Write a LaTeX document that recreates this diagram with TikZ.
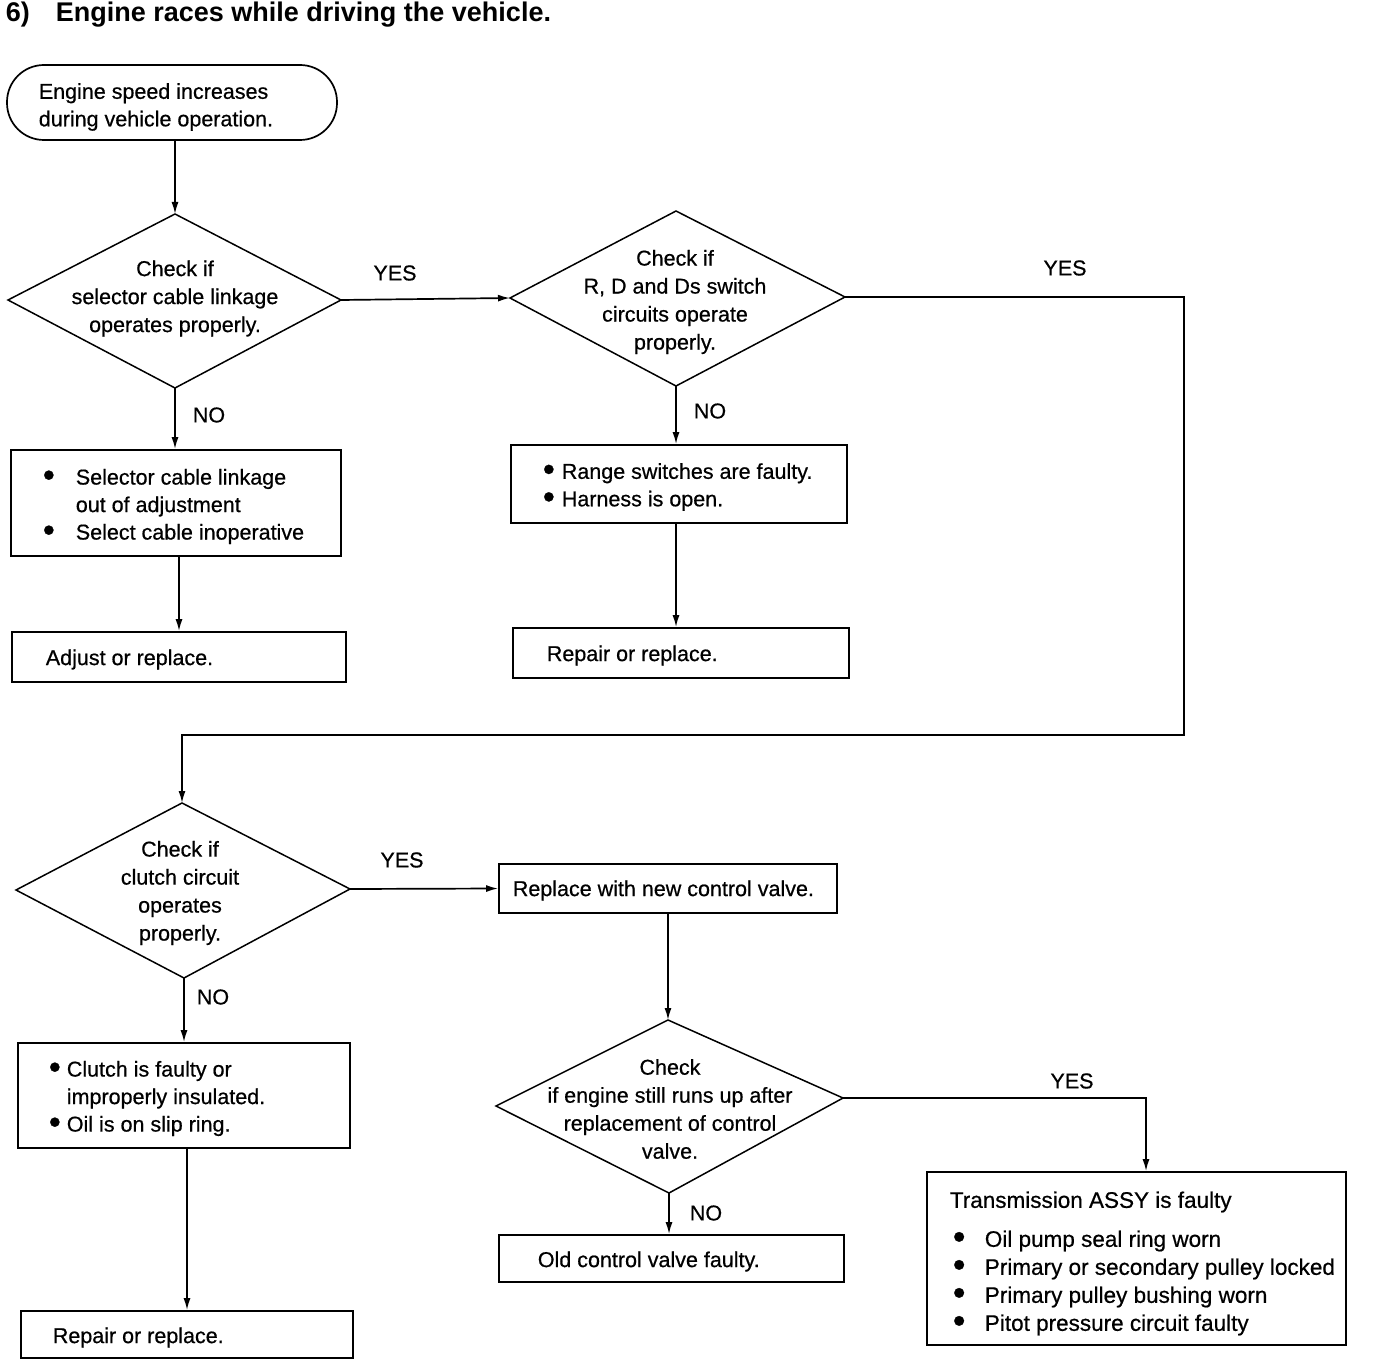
\documentclass[tikz,border=0pt]{standalone}
\usepackage{fontspec}
\setmainfont{Liberation Sans}
\newfontfamily\bodyfont{Liberation Sans}[FakeBold=0.6]
\usetikzlibrary{arrows.meta}
\newcommand{\bul}{\raisebox{-2pt}[0pt][0pt]{\scalebox{1.6}{•}}}
\begin{document}
\begin{tikzpicture}[x=1pt,y=-1pt,
  line width=1.7pt,
  box/.style={draw, rectangle, inner sep=0pt},
  txt/.style={font=\bodyfont\fontsize{21.5}{27.5}\selectfont, inner sep=0pt, align=left, anchor=west, yshift=-2.5pt},
  ctxt/.style={font=\bodyfont\fontsize{21.5}{28}\selectfont, inner sep=0pt, align=center, yshift=-3pt},
  lbl/.style={font=\bodyfont\fontsize{21.5}{24}\selectfont, inner sep=0pt},
  arr/.style={-{Latex[length=12pt,width=7pt]}},
  dia/.style={line width=1.5pt}]
\useasboundingbox (0,0) rectangle (1376,1364);

% title
\node[anchor=west, inner sep=0pt, font=\fontsize{27}{30}\selectfont\bfseries] (title) at (5,15)
  {6)\hspace{26pt}Engine races while driving the vehicle.};

% start terminal
\node[draw, rounded corners=37pt, minimum width=330pt, minimum height=75pt, inner sep=0pt] (start) at (172,102.5) {};
\node[txt] (starttxt) at (38,104.5) {Engine speed increases\\during vehicle operation.};

% diamond 1
\coordinate (d1t) at (175,214);
\coordinate (d1l) at (8,300);
\coordinate (d1r) at (341,300);
\coordinate (d1b) at (175,388);
\draw[dia] (d1t) -- (d1r) -- (d1b) -- (d1l) -- cycle;
\node[ctxt] (d1txt) at (175,295.5) {Check if\\selector cable linkage\\operates properly.};

% diamond 2
\coordinate (d2t) at (676,211);
\coordinate (d2l) at (510,298);
\coordinate (d2r) at (845,297);
\coordinate (d2b) at (676,386);
\draw[dia] (d2t) -- (d2r) -- (d2b) -- (d2l) -- cycle;
\node[ctxt] (d2txt) at (675,299) {Check if\\R, D and Ds switch\\circuits operate\\properly.};

% diamond 3
\coordinate (d3t) at (182,803);
\coordinate (d3l) at (16,890);
\coordinate (d3r) at (350,889);
\coordinate (d3b) at (184,978);
\draw[dia] (d3t) -- (d3r) -- (d3b) -- (d3l) -- cycle;
\node[ctxt] (d3txt) at (180,890) {Check if\\clutch circuit\\operates\\properly.};

% diamond 4
\coordinate (d4t) at (668,1020);
\coordinate (d4l) at (496,1106);
\coordinate (d4r) at (843,1098);
\coordinate (d4b) at (669,1193);
\draw[dia] (d4t) -- (d4r) -- (d4b) -- (d4l) -- cycle;
\node[ctxt, yshift=3pt] (d4txt) at (670,1109) {Check\\if engine still runs up after\\replacement of control\\valve.};

% boxes
\node[box, minimum width=330pt, minimum height=106pt] (sel) at (176,503) {};
\node[txt] (seltxt) at (42,504) {\makebox[33pt][l]{\bul}Selector cable linkage\\\hspace*{33pt}out of adjustment\\\makebox[33pt][l]{\bul}Select cable inoperative};

\node[box, minimum width=334pt, minimum height=50pt] (adj) at (179,657) {};
\node[txt] (adjtxt) at (45,657) {Adjust or replace.};

\node[box, minimum width=336pt, minimum height=78pt] (range) at (679,484) {};
\node[txt] (rangetxt) at (542,484.5) {\makebox[19pt][l]{\bul}Range switches are faulty.\\\makebox[19pt][l]{\bul}Harness is open.};

\node[box, minimum width=336pt, minimum height=50pt] (rep1) at (681,653) {};
\node[txt] (rep1txt) at (546,653) {Repair or replace.};

\node[box, minimum width=338pt, minimum height=49pt] (repl) at (668,888.5) {};
\node[txt] (repltxt) at (512,888) {Replace with new control valve.};

\node[box, minimum width=332pt, minimum height=105pt] (clutch) at (184,1095.5) {};
\node[txt] (clutchtxt) at (48,1096) {\makebox[18pt][l]{\bul}Clutch is faulty or\\\hspace*{18pt}improperly insulated.\\\makebox[18pt][l]{\bul}Oil is on slip ring.};

\node[box, minimum width=419pt, minimum height=173pt] (trans) at (1136.5,1258.5) {};
\node[txt, font=\bodyfont\fontsize{22.5}{28}\selectfont] (transtxt) at (949,1261) {Transmission ASSY is faulty\\[11pt]
  \hspace*{3pt}\makebox[32pt][l]{\bul}Oil pump seal ring worn\\
  \hspace*{3pt}\makebox[32pt][l]{\bul}Primary or secondary pulley locked\\
  \hspace*{3pt}\makebox[32pt][l]{\bul}Primary pulley bushing worn\\
  \hspace*{3pt}\makebox[32pt][l]{\bul}Pitot pressure circuit faulty};

\node[box, minimum width=345pt, minimum height=47pt] (old) at (671.5,1258.5) {};
\node[txt] (oldtxt) at (537,1259) {Old control valve faulty.};

\node[box, minimum width=332pt, minimum height=47pt] (rep2) at (187,1334.5) {};
\node[txt] (rep2txt) at (52,1335) {Repair or replace.};

% connectors
\draw[arr] (start.south -| d1t) -- (d1t);
\draw[arr] (d1r) -- (d2l);
\node[lbl] (yes1) at (395,273) {YES};
\draw[arr] (d1b) -- (sel.north -| d1b);
\node[lbl] (no1) at (209,415) {NO};
\draw[arr] (adj.north |- sel.south) -- (adj.north);

\draw[arr] (d2b) -- (range.north -| d2b);
\node[lbl] (no2) at (710,411) {NO};
\draw[arr] (range.south -| d2b) -- (rep1.north -| d2b);

\coordinate (c1) at (1184,296);
\coordinate (c2) at (1184,735);
\draw[arr] (d2r) -- (d2r -| c1) -- (c2) -- (c2 -| d3t) -- (d3t);
\node[lbl] (yes2) at (1065,268) {YES};

\draw[arr] (d3r) -- (repl.west);
\node[lbl] (yes3) at (402,860) {YES};
\draw[arr] (repl.south) -- (d4t);

\coordinate (c3) at (1146,1098);
\draw[arr] (d4r) -- (c3) -- (c3 |- trans.north);
\node[lbl] (yes4) at (1072,1081) {YES};

\draw[arr] (d4b) -- (old.north -| d4b);
\node[lbl] (no4) at (706,1213) {NO};

\draw[arr] (d3b) -- (clutch.north -| d3b);
\node[lbl] (no3) at (213,997) {NO};
\draw[arr] (rep2.north |- clutch.south) -- (rep2.north);
\end{tikzpicture}
\end{document}
